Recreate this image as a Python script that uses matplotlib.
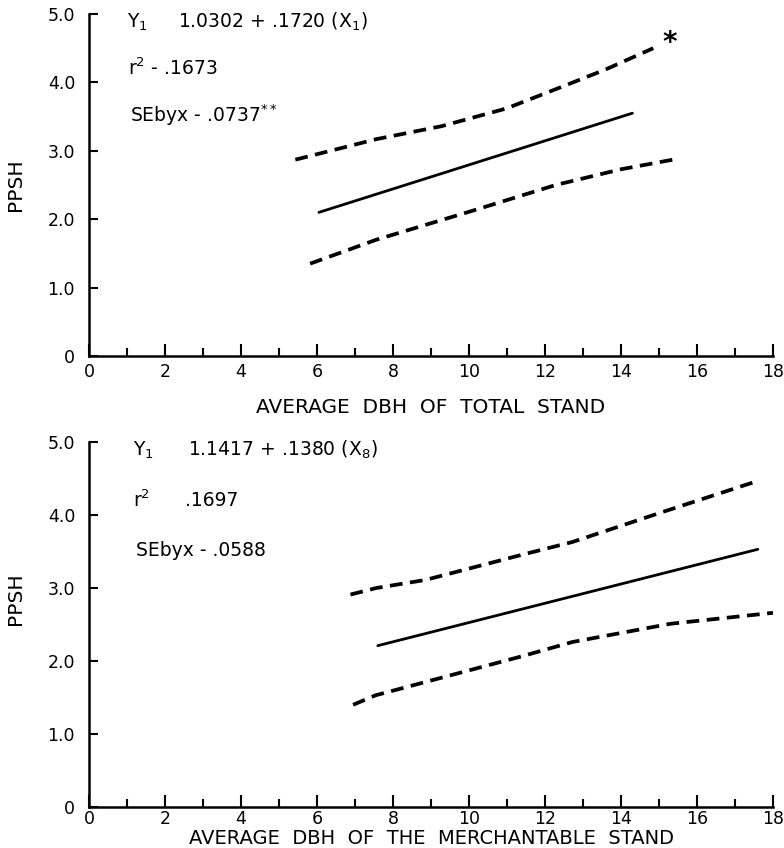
import matplotlib
matplotlib.use("Agg")
import matplotlib.pyplot as plt
from matplotlib.ticker import MultipleLocator, FixedLocator

# top panel: PPSH vs average DBH of total stand
top_line_x = [6.05, 14.3]
top_line_y = [2.10, 3.55]
top_upper_x = [5.43, 7.56, 9.28, 10.99, 12.28, 13.6, 14.85]
top_upper_y = [2.87, 3.17, 3.36, 3.62, 3.90, 4.19, 4.50]
top_lower_x = [5.82, 7.56, 10.13, 12.28, 14.0, 15.46]
top_lower_y = [1.35, 1.70, 2.13, 2.50, 2.73, 2.88]

# bottom panel: PPSH vs average DBH of merchantable stand
bot_line_x = [7.6, 17.6]
bot_line_y = [2.21, 3.53]
bot_upper_x = [6.88, 7.56, 8.85, 11.43, 12.72, 15.03, 17.5]
bot_upper_y = [2.91, 3.00, 3.11, 3.46, 3.63, 4.03, 4.45]
bot_lower_x = [6.95, 7.54, 11.43, 12.72, 15.3, 18.0]
bot_lower_y = [1.40, 1.53, 2.07, 2.26, 2.51, 2.66]

y_ticks = [0, 1, 2, 3, 4, 5]
y_ticklabels = ["0", "1.0", "2.0", "3.0", "4.0", "5.0"]
x_ticks = [0, 2, 4, 6, 8, 10, 12, 14, 16, 18]

top_text = [r"$\mathregular{Y_1}$", r"1.0302 + .1720 ($\mathregular{X_1}$)",
            r"$\mathregular{r^2}$ - .1673", r"SEbyx - .0737$\mathregular{^{**}}$"]
bot_text = [r"$\mathregular{Y_1}$", r"1.1417 + .1380 ($\mathregular{X_8}$)",
            r"$\mathregular{r^2}$", ".1697", "SEbyx - .0588"]

plt.rcParams["font.family"] = ["DejaVu Sans"]

fig = plt.figure(figsize=(7.84, 8.48), dpi=100)
W, H = 784.0, 848.0
ax1 = fig.add_axes([89 / W, 1 - 356 / H, 684 / W, 342 / H])
ax2 = fig.add_axes([89 / W, 1 - 807 / H, 684 / W, 365 / H])

dash = (3.4, 2.0)


def style_axis(ax, xlabel, labelpad):
    ax.set_xlim(0, 18)
    ax.set_ylim(0, 5)
    for s in ["top", "right"]:
        ax.spines[s].set_visible(False)
    for s in ["left", "bottom"]:
        ax.spines[s].set_linewidth(1.8)
    ax.xaxis.set_major_locator(FixedLocator(x_ticks))
    ax.xaxis.set_minor_locator(MultipleLocator(1))
    ax.set_yticks(y_ticks)
    ax.set_yticklabels(y_ticklabels)
    ax.tick_params(axis="x", which="major", direction="in", length=9, width=1.5,
                   labelsize=12.5, pad=5)
    ax.tick_params(axis="x", which="minor", direction="in", length=5.5, width=1.5)
    ax.tick_params(axis="y", direction="in", length=6.5, width=1.5,
                   labelsize=12.5, pad=10)
    ax.set_xlabel(xlabel, fontsize=14.5, labelpad=labelpad)
    ax.set_ylabel("PPSH", fontsize=14.5)
    ax.yaxis.set_label_coords(-0.094, 0.5)


def draw_lines(ax, lx, ly, ux, uy, wx, wy):
    ax.plot(lx, ly, color="black", lw=2.0, solid_capstyle="round")
    ax.plot(ux, uy, color="black", lw=2.7, dashes=dash)
    ax.plot(wx, wy, color="black", lw=2.7, dashes=dash)


style_axis(ax1, "AVERAGE  DBH  OF  TOTAL  STAND", 12)
draw_lines(ax1, top_line_x, top_line_y, top_upper_x, top_upper_y, top_lower_x, top_lower_y)
ax1.text(top_upper_x[-1] + 0.25, top_upper_y[-1] + 0.07, "*", fontsize=20,
         fontweight="bold", ha="left", va="center")

fs = 13.5
ax1.text(0.056, 0.977, top_text[0], transform=ax1.transAxes, fontsize=fs, va="center")
ax1.text(0.130, 0.977, top_text[1], transform=ax1.transAxes, fontsize=fs, va="center")
ax1.text(0.057, 0.842, top_text[2], transform=ax1.transAxes, fontsize=fs, va="center")
ax1.text(0.060, 0.705, top_text[3], transform=ax1.transAxes, fontsize=fs, va="center")

style_axis(ax2, "AVERAGE  DBH  OF  THE  MERCHANTABLE  STAND", 1)
ax2.xaxis.label.set_fontsize(14)
ax2.yaxis.set_label_coords(-0.094, 0.57)
ax2.tick_params(axis="x", which="major", pad=2)
draw_lines(ax2, bot_line_x, bot_line_y, bot_upper_x, bot_upper_y, bot_lower_x, bot_lower_y)

ax2.text(0.064, 0.978, bot_text[0], transform=ax2.transAxes, fontsize=fs, va="center")
ax2.text(0.145, 0.978, bot_text[1], transform=ax2.transAxes, fontsize=fs, va="center")
ax2.text(0.064, 0.841, bot_text[2], transform=ax2.transAxes, fontsize=fs, va="center")
ax2.text(0.140, 0.841, bot_text[3], transform=ax2.transAxes, fontsize=fs, va="center")
ax2.text(0.068, 0.704, bot_text[4], transform=ax2.transAxes, fontsize=fs, va="center")

fig.savefig("out.png", dpi=100)
